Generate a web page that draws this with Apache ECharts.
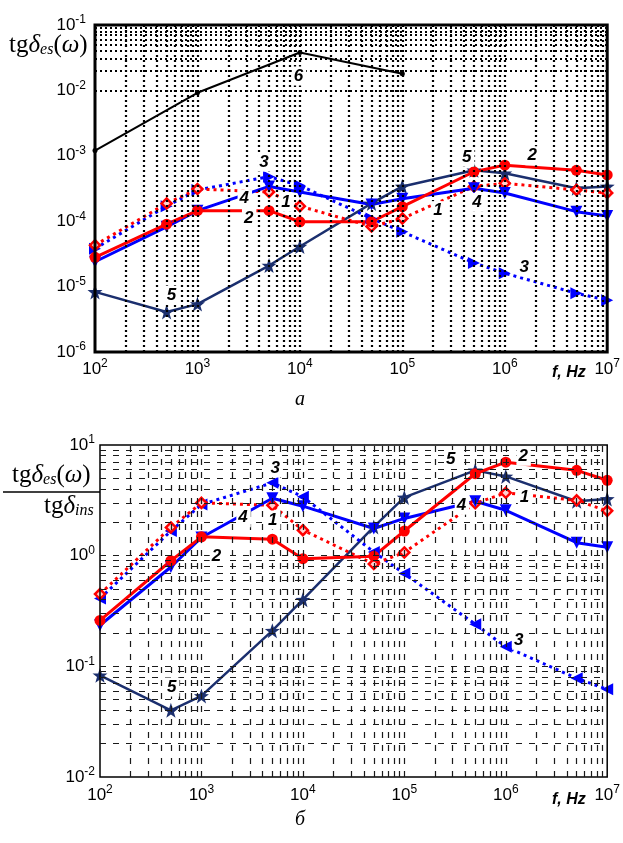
<!DOCTYPE html>
<html>
<head>
<meta charset="utf-8">
<script src="https://cdn.jsdelivr.net/npm/echarts@6/dist/echarts.min.js"></script>
<style>html,body{margin:0;padding:0;background:#fff}#c{width:623px;height:843px}</style>
</head>
<body>
<div id="c"></div>
<script>
// ---- data ----
const freq = [100, 500, 1000, 5000, 1e4, 5e4, 1e5, 5e5, 1e6, 5e6, 1e7];
// panel a: tg delta_es(omega)
const s1Top = [4.3e-5, 1.87e-4, 3.1e-4, 2.8e-4, 1.7e-4, 8.3e-5, 1.1e-4, 3.4e-4, 3.8e-4, 3.0e-4, 2.7e-4];
const s2Top = [2.8e-5, 9.0e-5, 1.45e-4, 1.45e-4, 9.8e-5, 9.8e-5, 1.67e-4, 5.7e-4, 7.2e-4, 6.0e-4, 5.1e-4];
const s3Top = [3.8e-5, 1.7e-4, 3.0e-4, 4.8e-4, 3.5e-4, 1.1e-4, 6.9e-5, 2.3e-5, 1.6e-5, 7.9e-6, 6.2e-6];
const s4Top = [2.4e-5, 8.2e-5, 1.45e-4, 3.4e-4, 2.8e-4, 1.8e-4, 2.2e-4, 3.2e-4, 2.7e-4, 1.4e-4, 1.2e-4];
const s5Top = [8.3e-6, 4.1e-6, 5.4e-6, 2.1e-5, 4.1e-5, 1.87e-4, 3.4e-4, 6.0e-4, 5.4e-4, 3.2e-4, 3.4e-4];
const freq6 = [100, 1000, 1e4, 1e5];
const s6Top = [1.2e-3, 9.2e-3, 0.038, 0.018];
// panel b: ratio tg delta_es / tg delta_ins
const s1Bot = [0.45, 1.80, 3.0, 2.85, 1.70, 0.84, 1.07, 2.97, 3.7, 3.16, 2.54];
const s2Bot = [0.26, 0.90, 1.48, 1.41, 0.94, 0.99, 1.67, 5.5, 7.0, 5.9, 4.8];
const s3Bot = [0.41, 1.67, 2.9, 4.55, 3.4, 1.08, 0.69, 0.24, 0.15, 0.078, 0.062];
const s4Bot = [0.235, 0.79, 1.46, 3.3, 2.8, 1.76, 2.17, 3.1, 2.57, 1.31, 1.19];
const s5Bot = [0.083, 0.040, 0.054, 0.21, 0.40, 1.82, 3.36, 5.9, 5.2, 3.1, 3.25];
// tick exponents
const xTickExp = [2, 3, 4, 5, 6, 7];
const yTopExp = [-6, -5, -4, -3, -2, -1];
const yBotExp = [-2, -1, 0, 1];
const minorMult = [1, 2, 3, 4, 5, 6, 7, 8, 9];
// curve number labels [text, f, value]
const labelsTop = [['6', 9800, 0.0166], ['3', 4500, 8.0e-4], ['4', 2900, 2.2e-4], ['1', 7400, 1.94e-4], ['2', 3200, 1.12e-4], ['5', 565, 7.4e-6],
  ['5', 4.3e5, 9.5e-4], ['2', 1.87e6, 1.0e-3], ['1', 2.25e5, 1.45e-4], ['4', 5.4e5, 1.94e-4], ['3', 1.57e6, 2.0e-5]];
const labelsBot = [['3', 5400, 6.2], ['4', 2600, 2.2], ['1', 5100, 2.1], ['2', 1420, 0.99], ['5', 515, 0.065],
  ['5', 2.9e5, 7.4], ['2', 1.5e6, 7.9], ['1', 1.55e6, 3.4], ['4', 3.7e5, 2.86], ['3', 1.36e6, 0.172]];

// ---- styles ----
const RED = '#ff0000', BLUE = '#0000ff', NAVY = '#1b2f6e';
const STAR = 'path://M0,-10 L2.35,-3.24 L9.51,-3.09 L3.8,1.24 L5.88,8.09 L0,4 L-5.88,8.09 L-3.8,1.24 L-9.51,-3.09 L-2.35,-3.24 Z';

function pair(xs, ys) { return xs.map((x, i) => [x, ys[i]]); }
function expLabel(v) { const e = Math.round(Math.log10(v)); return '{b|10}{s|' + e + '}'; }
const tickRich = { b: { fontSize: 17, fontFamily: 'Liberation Sans, Arial', color: '#000', lineHeight: 22 },
  s: { fontSize: 12, fontFamily: 'Liberation Sans, Arial', color: '#000', lineHeight: 12, verticalAlign: 'top' } };

function gridLineData(xe, ye) {
  const d = [];
  for (let i = 0; i < xe.length - 1; i++) for (const k of minorMult) { if (i === 0 && k === 1) continue; d.push({ xAxis: k * Math.pow(10, xe[i]) }); }
  for (let i = 0; i < ye.length - 1; i++) for (const k of minorMult) { if (i === 0 && k === 1) continue; d.push({ yAxis: k * Math.pow(10, ye[i]) }); }
  return d;
}

function lineSeries(gi, xs, ys, opt) {
  return Object.assign({ type: 'line', xAxisIndex: gi, yAxisIndex: gi, data: pair(xs, ys), z: 4, silent: true, animation: false }, opt);
}

function panelSeries(gi, d, tri) {
  const S = [];
  // grid lines
  S.push({ type: 'line', xAxisIndex: gi, yAxisIndex: gi, data: pair(freq, d.s5), showSymbol: false, symbol: 'none',
    lineStyle: { opacity: 0 }, z: 1, silent: true, animation: false,
    markLine: { silent: true, symbol: ['none', 'none'], label: { show: false }, animation: false,
      lineStyle: gi === 0 ? { color: '#000', width: 2.2, type: [2, 3] } : { color: '#1a1a1a', width: 1.2, type: [6, 7] },
      emphasis: { disabled: true }, data: gridLineData(xTickExp, gi === 0 ? yTopExp : yBotExp) } });
  S.push(lineSeries(gi, freq, d.s5, { lineStyle: { color: NAVY, width: 2.5 }, symbol: STAR, symbolSize: 15, itemStyle: { color: NAVY } }));
  S.push(lineSeries(gi, freq, d.s3, { lineStyle: { color: BLUE, width: 3, type: [3, 4] }, symbol: 'triangle', symbolRotate: tri, symbolSize: 12, itemStyle: { color: BLUE } }));
  S.push(lineSeries(gi, freq, d.s1, { lineStyle: { color: RED, width: 3, type: [3, 4] }, symbol: 'diamond', symbolSize: 10, itemStyle: { color: '#ffd0d0', borderColor: RED, borderWidth: 2.5 } }));
  S.push(lineSeries(gi, freq, d.s4, { lineStyle: { color: BLUE, width: 3 }, symbol: 'triangle', symbolRotate: 180, symbolSize: 12, itemStyle: { color: BLUE } }));
  S.push(lineSeries(gi, freq, d.s2, { lineStyle: { color: RED, width: 3 }, symbol: 'circle', symbolSize: 11, itemStyle: { color: RED } }));
  S.push({ type: 'scatter', xAxisIndex: gi, yAxisIndex: gi, z: 6, silent: true, animation: false, symbolSize: 1,
    itemStyle: { color: '#fff', opacity: 1 },
    data: d.labels.map(l => ({ name: l[0], value: [l[1], l[2]] })),
    label: { show: true, position: 'inside', formatter: '{b}', fontFamily: 'Liberation Sans, Arial', fontWeight: 'bold', fontStyle: 'italic',
      fontSize: 17, color: '#000', opacity: 1, textBorderWidth: 0, backgroundColor: '#fff', padding: [1, 3, 1, 2] } });
  return S;
}

const series = [].concat(
  panelSeries(0, { s1: s1Top, s2: s2Top, s3: s3Top, s4: s4Top, s5: s5Top, labels: labelsTop }, -90),
  [lineSeries(0, freq6, s6Top, { lineStyle: { color: '#000', width: 2 }, symbol: 'circle', symbolSize: 5, itemStyle: { color: '#000' } })],
  panelSeries(1, { s1: s1Bot, s2: s2Bot, s3: s3Bot, s4: s4Bot, s5: s5Bot, labels: labelsBot }, 90)
);

function xAxis(gi) {
  return { type: 'log', logBase: 10, gridIndex: gi, min: Math.pow(10, xTickExp[0]), max: Math.pow(10, xTickExp[xTickExp.length - 1]),
    axisLine: { show: false }, axisTick: { show: false }, splitLine: { show: false },
    axisLabel: { formatter: expLabel, rich: tickRich, margin: gi === 0 ? 6 : 7, showMinLabel: true, showMaxLabel: true } };
}
function yAxis(gi, ex) {
  return { type: 'log', logBase: 10, gridIndex: gi, min: Math.pow(10, ex[0]), max: Math.pow(10, ex[ex.length - 1]),
    axisLine: { show: false }, axisTick: { show: false }, splitLine: { show: false },
    axisLabel: { formatter: expLabel, rich: tickRich, margin: gi === 0 ? 9 : 5, showMinLabel: true, showMaxLabel: true } };
}

const serif = 'Liberation Serif, Times New Roman, serif';
const titleRich = {
  a: { fontFamily: serif, fontSize: 25, color: '#000' },
  i: { fontFamily: serif, fontSize: 25, fontStyle: 'italic', color: '#000' },
  s: { fontFamily: serif, fontSize: 16, fontStyle: 'italic', color: '#000', verticalAlign: 'bottom', lineHeight: 14 }
};

const chart = echarts.init(document.getElementById('c'), null, { renderer: 'canvas' });
chart.setOption({
  animation: false,
  backgroundColor: '#fff',
  grid: [
    { left: 95, top: 25, right: 13, height: 327, show: true, borderColor: '#000', borderWidth: 3, backgroundColor: 'transparent', z: 5 },
    { left: 100, top: 445, right: 11, height: 332, show: true, borderColor: '#000', borderWidth: 1.5, backgroundColor: 'transparent', z: 5 }
  ],
  xAxis: [xAxis(0), xAxis(1)],
  yAxis: [yAxis(0, yTopExp), yAxis(1, yBotExp)],
  series: series,
  graphic: [
    { type: 'text', left: 9, top: 33, z: 10, style: { text: '{a|tg}{i|δ}{s|es}{a|(}{i|ω}{a|)}', rich: titleRich } },
    { type: 'text', left: 12, top: 463, z: 10, style: { text: '{a|tg}{i|δ}{s|es}{a|(}{i|ω}{a|)}', rich: titleRich } },
    { type: 'line', z: 10, shape: { x1: 3, y1: 492, x2: 100, y2: 492 }, style: { stroke: '#000', lineWidth: 1.5 } },
    { type: 'text', left: 44, top: 494, z: 10, style: { text: '{a|tg}{i|δ}{s|ins}', rich: titleRich } },
    { type: 'text', left: 552, top: 365, z: 10, style: { text: 'f, Hz', font: 'italic bold 16px Liberation Sans, Arial', fill: '#000' } },
    { type: 'text', left: 552, top: 792, z: 10, style: { text: 'f, Hz', font: 'italic bold 16px Liberation Sans, Arial', fill: '#000' } },
    { type: 'text', left: 295, top: 390, z: 10, style: { text: 'а', font: 'italic 20px Liberation Serif, Times New Roman, serif', fill: '#000' } },
    { type: 'text', left: 295, top: 810, z: 10, style: { text: 'б', font: 'italic 20px Liberation Serif, Times New Roman, serif', fill: '#000' } }
  ]
});
</script>
</body>
</html>
